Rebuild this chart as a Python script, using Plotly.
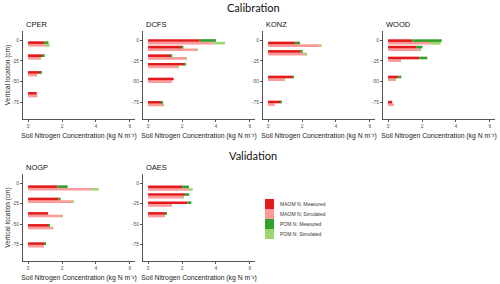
import plotly.graph_objects as go

# ---------------- data ----------------
sites = ["CPER", "DCFS", "KONZ", "WOOD", "NOGP", "OAES"]
groups = ["Calibration", "Calibration", "Calibration", "Calibration", "Validation", "Validation"]

depth = {
    "CPER": [-4.6, -20.3, -40.5, -65.7],
    "DCFS": [-2.0, -10.0, -20.3, -30.6, -48.4, -76.5],
    "KONZ": [-5.0, -15.2, -46.0, -76.1],
    "WOOD": [-2.2, -10.0, -23.1, -46.0, -76.3],
    "NOGP": [-6.0, -21.0, -38.6, -53.2, -75.4],
    "OAES": [-6.3, -15.6, -25.6, -38.6],
}
maom_meas = {
    "CPER": [0.97, 0.87, 0.75, 0.51],
    "DCFS": [3.04, 1.98, 1.33, 2.12, 1.51, 0.80],
    "KONZ": [1.59, 1.88, 1.43, 0.75],
    "WOOD": [1.43, 1.65, 1.84, 0.61, 0.24],
    "NOGP": [1.73, 1.80, 1.18, 1.22, 0.96],
    "OAES": [2.00, 2.18, 2.31, 1.04],
}
pom_meas = {
    "CPER": [0.23, 0.11, 0.07, 0.0],
    "DCFS": [0.96, 0.10, 0.10, 0.12, 0.0, 0.06],
    "KONZ": [0.29, 0.16, 0.08, 0.05],
    "WOOD": [1.73, 0.37, 0.47, 0.17, 0.0],
    "NOGP": [0.60, 0.12, 0.0, 0.02, 0.08],
    "OAES": [0.41, 0.25, 0.24, 0.06],
}
maom_sim = {
    "CPER": [1.00, 0.70, 0.51, 0.55],
    "DCFS": [3.84, 2.86, 2.27, 1.76, 1.41, 0.92],
    "KONZ": [3.02, 2.22, 0.94, 0.39],
    "WOOD": [2.47, 1.84, 0.71, 0.39, 0.33],
    "NOGP": [3.75, 2.63, 2.02, 1.49, 0.94],
    "OAES": [2.37, 2.02, 1.35, 0.94],
}
pom_sim = {
    "CPER": [0.28, 0.02, 0.01, 0.0],
    "DCFS": [0.69, 0.08, 0.02, 0.01, 0.0, 0.01],
    "KONZ": [0.14, 0.02, 0.01, 0.0],
    "WOOD": [0.63, 0.10, 0.04, 0.03, 0.0],
    "NOGP": [0.41, 0.04, 0.01, 0.0, 0.0],
    "OAES": [0.26, 0.04, 0.01, 0.01],
}
series_names = ["MAOM N; Measured", "MAOM N; Simulated", "POM N; Measured", "POM N; Simulated"]
series_colors = ["#E31A1C", "#FB9A99", "#33A02C", "#9CD66F"]
x_ticks = [0, 2, 4, 6]
y_ticks = [0, -25, -50, -75]
y_tick_text = ["0", "-25", "-50", "-75"]

# ---------------- layout geometry ----------------
W, H = 500, 284
col_px = [23, 143, 263, 383]
panel_w = 112
row_px = {"Calibration": (31, 119), "Validation": (174, 261)}
pos = [(0, "Calibration"), (1, "Calibration"), (2, "Calibration"), (3, "Calibration"),
       (0, "Validation"), (1, "Validation")]

bar_w = 3.2
half = bar_w / 2

fig = go.Figure()
layout = dict(
    width=W, height=H, margin=dict(l=0, r=0, t=0, b=0, autoexpand=False),
    paper_bgcolor="white", plot_bgcolor="white",
    barmode="overlay", showlegend=False,
    font=dict(family="Liberation Sans, Arial, sans-serif", color="#222"),
)
annotations = []
shapes = []

for i, site in enumerate(sites):
    ax = "" if i == 0 else str(i + 1)
    c, grp = pos[i]
    x0 = col_px[c] / W
    x1 = (col_px[c] + panel_w) / W
    top, bot = row_px[grp]
    y0 = 1 - bot / H
    y1 = 1 - top / H
    d = depth[site]
    ym = [v + half for v in d]
    ys = [v - half for v in d]
    mm, pm, ms, ps = maom_meas[site], pom_meas[site], maom_sim[site], pom_sim[site]
    specs = [
        (ms, [0] * len(d), ys, 1),
        (ps, ms, ys, 3),
        (mm, [0] * len(d), ym, 0),
        (pm, mm, ym, 2),
    ]
    for vals, base, yy, k in specs:
        fig.add_trace(go.Bar(
            x=vals, base=base, y=yy, orientation="h", width=bar_w,
            marker=dict(color=series_colors[k], line=dict(width=0)),
            name=series_names[k], showlegend=False,
            xaxis="x" + ax, yaxis="y" + ax,
        ))
    layout["xaxis" + ax] = dict(
        domain=[x0, x1], anchor="y" + ax, range=[-0.3, 6.3], automargin=False,
        tickvals=x_ticks, ticks="outside", ticklen=2, tickwidth=0.6, tickcolor="#555",
        tickfont=dict(size=5, color="#555"), showline=True, linecolor="#555", linewidth=1,
        showgrid=False, zeroline=False,
        title=dict(text="Soil Nitrogen Concentration (kg N m\u207b\u00b3)",
                   font=dict(size=6.8, color="#222"), standoff=5),
    )
    yax = dict(
        domain=[y0, y1], anchor="x" + ax, range=[-95, 11], automargin=False,
        tickvals=y_ticks, ticktext=y_tick_text, ticks="outside", ticklen=2,
        tickwidth=0.6, tickcolor="#555",
        tickfont=dict(size=5, color="#555"), showline=True, linecolor="#555", linewidth=1,
        showgrid=False, zeroline=False,
    )
    if c == 0:
        yax["title"] = dict(text="Vertical location (cm)",
                            font=dict(size=6.5, color="#222"), standoff=0)
    layout["yaxis" + ax] = yax
    annotations.append(dict(
        text=site, x=x0 + 1 / W, y=1 - (top - 7) / H, xref="paper", yref="paper",
        xanchor="left", yanchor="middle", showarrow=False,
        font=dict(size=7.5, color="#111"),
    ))

for grp, ypx in [("Calibration", 8), ("Validation", 155)]:
    annotations.append(dict(
        text=grp, x=253 / W, y=1 - ypx / H, xref="paper", yref="paper",
        xanchor="center", yanchor="middle", showarrow=False,
        font=dict(size=11, color="#111", family="Lato, Open Sans, sans-serif"),
    ))

# legend built from series names / colours
leg_x0, leg_top, sw, sh = 265, 199, 9, 10
for k, (nm, col) in enumerate(zip(series_names, series_colors)):
    t = leg_top + k * sh
    shapes.append(dict(
        type="rect", xref="paper", yref="paper",
        x0=leg_x0 / W, x1=(leg_x0 + sw) / W, y0=1 - (t + sh) / H, y1=1 - t / H,
        fillcolor=col, line=dict(width=0),
    ))
    annotations.append(dict(
        text=nm, x=(leg_x0 + sw + 4) / W, y=1 - (t + sh / 2) / H, xref="paper", yref="paper",
        xanchor="left", yanchor="middle", showarrow=False,
        font=dict(size=5, color="#333"),
    ))

layout["annotations"] = annotations
layout["shapes"] = shapes
fig.update_layout(**layout)
fig.write_html(
    "out.html",
    config={"displayModeBar": False},
    post_script="document.body.style.margin='0';document.body.style.padding='0';"
                "document.documentElement.style.margin='0';",
)
